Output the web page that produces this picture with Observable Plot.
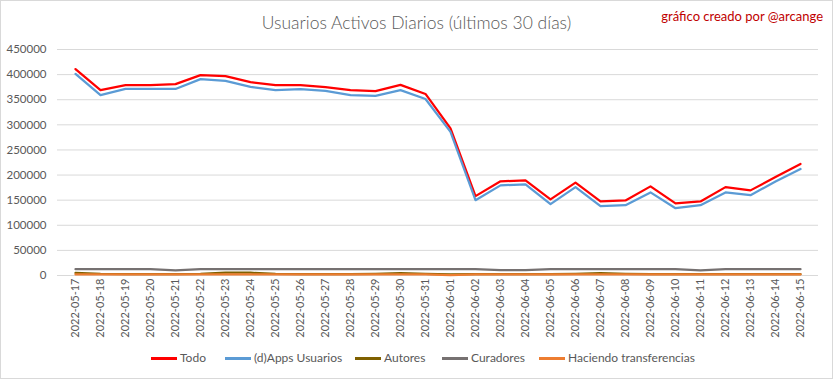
<!DOCTYPE html>
<html>
<head>
<meta charset="utf-8">
<script src="https://cdn.jsdelivr.net/npm/d3@7"></script>
<script src="https://cdn.jsdelivr.net/npm/@observablehq/plot@0.6"></script>
<style>
  html, body { margin: 0; padding: 0; background: #fff; }
  #wrap { position: relative; width: 833px; height: 379px; overflow: hidden; background: #fff; font-family: Lato, "Open Sans", sans-serif; }
  #frame { position: absolute; left: 0; top: 0; width: 831px; height: 377px; border: 1px solid #d9d9d9; pointer-events: none; }
  #chart { position: absolute; left: 0; top: 0; }
  #title { position: absolute; left: 0; top: 11px; width: 833px; text-align: center; font-size: 17.5px; font-weight: 300; color: #595959; line-height: 24px; }
  #credit { position: absolute; left: 600px; width: 223px; top: 7px; text-align: right; font-size: 13px; color: #c00000; line-height: 18px; }
  .leg { position: absolute; top: 349px; height: 18px; line-height: 18px; font-size: 12px; color: #595959; white-space: nowrap; }
  .leg span.sw { position: absolute; left: 0; top: 8px; width: 26px; height: 2.5px; }
  .leg span.tx { position: absolute; left: 29px; top: 0; }
</style>
</head>
<body>
<div id="wrap">
  <div id="chart"></div>
  <div id="title">Usuarios Activos Diarios (últimos 30 días)</div>
  <div id="credit">gráfico creado por @arcange</div>
  <div id="legend"></div>
  <div id="frame"></div>
</div>
<script>
const dates = [
  "2022-05-17","2022-05-18","2022-05-19","2022-05-20","2022-05-21","2022-05-22","2022-05-23","2022-05-24",
  "2022-05-25","2022-05-26","2022-05-27","2022-05-28","2022-05-29","2022-05-30","2022-05-31",
  "2022-06-01","2022-06-02","2022-06-03","2022-06-04","2022-06-05","2022-06-06","2022-06-07","2022-06-08",
  "2022-06-09","2022-06-10","2022-06-11","2022-06-12","2022-06-13","2022-06-14","2022-06-15"
];
const todo = [411000, 369000, 379000, 379000, 381000, 399000, 397000, 385000, 379000, 379000,
  375000, 369000, 367000, 379500, 361500, 293000, 158000, 187500, 189500, 151500,
  185000, 147500, 149500, 177500, 143500, 147500, 176000, 169500, 196000, 222000];
const dapps = [401500, 359000, 371500, 371500, 371500, 391000, 387500, 375500, 369000, 371000,
  367500, 359000, 357500, 369000, 351500, 286000, 150000, 179500, 181500, 142000,
  176000, 138000, 140000, 165500, 134000, 140000, 165500, 160000, 187000, 212000];
const autores = [5000, 3000, 2500, 2500, 2500, 3000, 5500, 5500, 3000, 2500,
  2500, 2500, 3000, 4500, 3000, 2000, 2500, 2500, 2500, 2500,
  3000, 4500, 3000, 2500, 2500, 2500, 2500, 2500, 2500, 2500];
const curadores = [12500, 12500, 12500, 12500, 10000, 12500, 12500, 12500, 12500, 12500,
  12500, 12500, 12500, 12500, 12500, 12500, 12500, 10500, 10500, 12500,
  12500, 12500, 12500, 12500, 12500, 10000, 12500, 12500, 12500, 12500];
const transferencias = [2000, 2000, 2000, 2000, 2000, 2000, 2000, 2000, 2000, 2000,
  2000, 2000, 2000, 2000, 2000, 800, 2000, 2000, 2000, 2000,
  2000, 2000, 2000, 2000, 2000, 2000, 2000, 2000, 2000, 2000];
const seriesNames = ["Todo", "(d)Apps Usuarios", "Autores", "Curadores", "Haciendo transferencias"];
const seriesColors = ["#ff0000", "#5b9bd5", "#7f6000", "#767171", "#ed7d31"];
const yTicks = [0, 50000, 100000, 150000, 200000, 250000, 300000, 350000, 400000, 450000];

const seriesValues = [todo, dapps, autores, curadores, transferencias];
const rows = [];
seriesNames.forEach((name, s) => {
  seriesValues[s].forEach((v, i) => rows.push({date: dates[i], value: v, series: name}));
});

const lineMarks = seriesNames.map((name, s) =>
  Plot.lineY(rows.filter(r => r.series === name), {
    x: "date", y: "value", stroke: seriesColors[s], strokeWidth: 2.25,
    strokeLinejoin: "round", strokeLinecap: "round"
  })
);

const chart = Plot.plot({
  width: 833,
  height: 345,
  marginTop: 49,
  marginBottom: 70,
  marginLeft: 57,
  marginRight: 15,
  style: {fontFamily: "Lato, sans-serif", fontSize: "11px", color: "#595959", background: "transparent"},
  x: {type: "point", domain: dates, padding: 0.5, label: null},
  y: {domain: [0, 450000], label: null},
  marks: [
    Plot.gridY(yTicks, {stroke: "#d9d9d9", strokeOpacity: 1, strokeWidth: 1}),
    Plot.axisY(yTicks, {tickSize: 0, tickPadding: 11, tickFormat: d3.format("d"), fill: "#595959", fontSize: 11.5, label: null}),
    Plot.axisX({tickSize: 0, tickPadding: 3, tickRotate: -90, fill: "#595959", fontSize: 11, label: null}),
    ...lineMarks
  ]
});
document.getElementById("chart").appendChild(chart);

// legend
const legendLeft = [151, 225, 355, 442, 539];
const legend = document.getElementById("legend");
seriesNames.forEach((name, s) => {
  const d = document.createElement("div");
  d.className = "leg";
  d.style.left = legendLeft[s] + "px";
  const sw = document.createElement("span");
  sw.className = "sw";
  sw.style.background = seriesColors[s];
  const tx = document.createElement("span");
  tx.className = "tx";
  tx.textContent = name;
  d.appendChild(sw); d.appendChild(tx);
  legend.appendChild(d);
});
</script>
</body>
</html>
